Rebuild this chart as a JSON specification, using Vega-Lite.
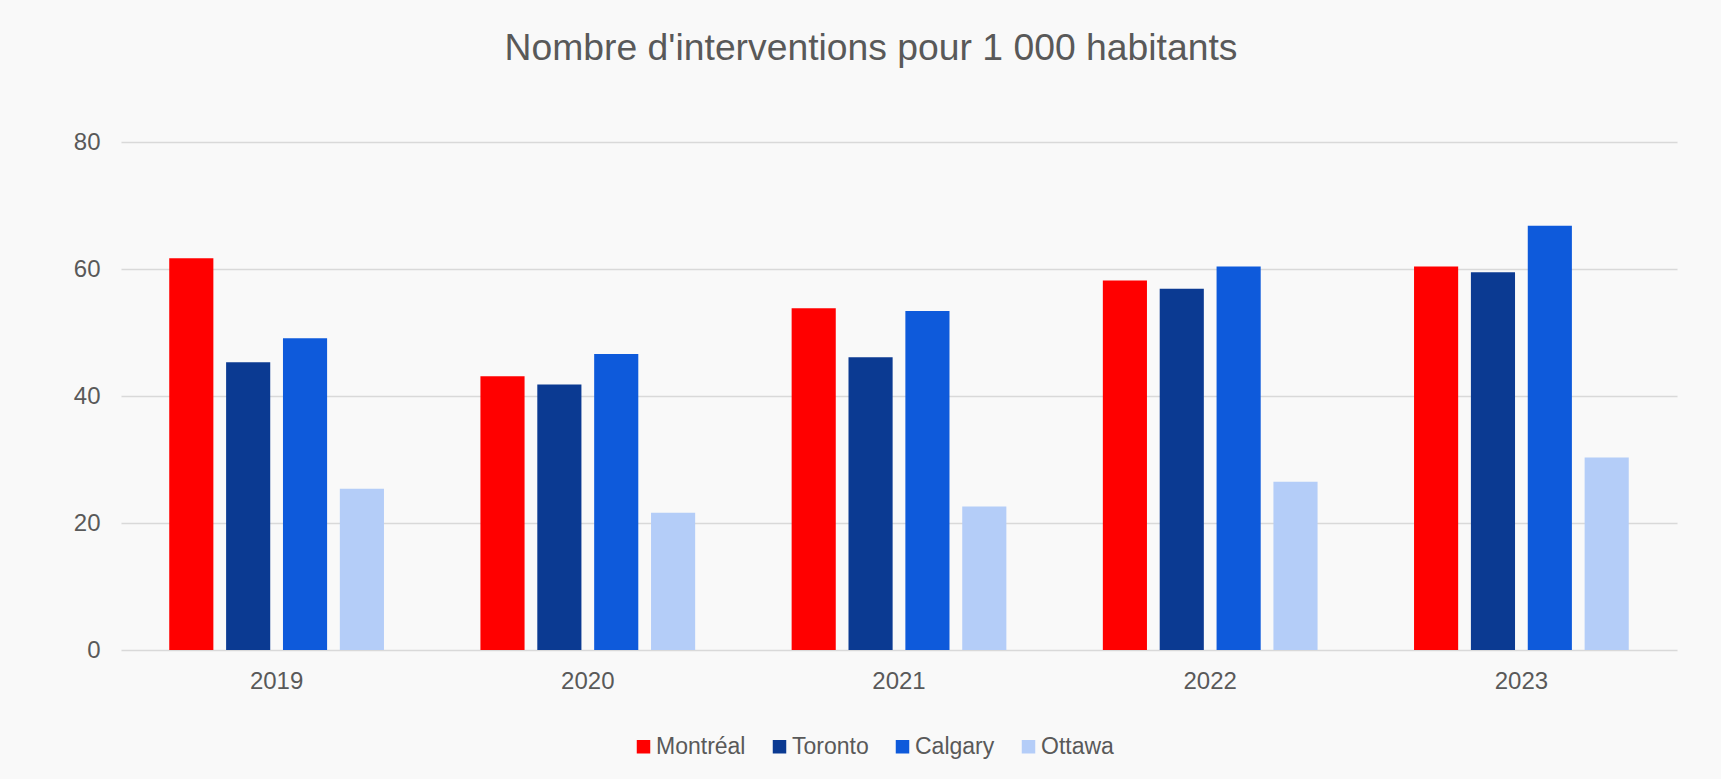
{
  "$schema": "https://vega.github.io/schema/vega-lite/v6.json",
  "autosize": {"type": "none"},
  "padding": {"left": 121, "top": 142, "right": 44, "bottom": 129},
  "width": 1556,
  "height": 508,
  "background": "#f9f9f9",
  "title": {
    "text": "Nombre d'interventions pour 1 000 habitants",
    "anchor": "middle",
    "frame": "group",
    "font": "Liberation Sans",
    "fontSize": 37.3,
    "fontWeight": "normal",
    "color": "#595959",
    "baseline": "alphabetic",
    "offset": 33,
    "dx": -28
  },
  "data": {
    "values": [
      {"annee": "2019", "ville": "Montréal", "valeur": 61.7},
      {"annee": "2019", "ville": "Toronto", "valeur": 45.3},
      {"annee": "2019", "ville": "Calgary", "valeur": 49.1},
      {"annee": "2019", "ville": "Ottawa", "valeur": 25.4},
      {"annee": "2020", "ville": "Montréal", "valeur": 43.1},
      {"annee": "2020", "ville": "Toronto", "valeur": 41.8},
      {"annee": "2020", "ville": "Calgary", "valeur": 46.6},
      {"annee": "2020", "ville": "Ottawa", "valeur": 21.6},
      {"annee": "2021", "ville": "Montréal", "valeur": 53.8},
      {"annee": "2021", "ville": "Toronto", "valeur": 46.1},
      {"annee": "2021", "ville": "Calgary", "valeur": 53.4},
      {"annee": "2021", "ville": "Ottawa", "valeur": 22.6},
      {"annee": "2022", "ville": "Montréal", "valeur": 58.2},
      {"annee": "2022", "ville": "Toronto", "valeur": 56.9},
      {"annee": "2022", "ville": "Calgary", "valeur": 60.4},
      {"annee": "2022", "ville": "Ottawa", "valeur": 26.5},
      {"annee": "2023", "ville": "Montréal", "valeur": 60.4},
      {"annee": "2023", "ville": "Toronto", "valeur": 59.5},
      {"annee": "2023", "ville": "Calgary", "valeur": 66.8},
      {"annee": "2023", "ville": "Ottawa", "valeur": 30.3}
    ]
  },
  "mark": {"type": "bar"},
  "encoding": {
    "x": {
      "field": "annee",
      "type": "nominal",
      "scale": {"paddingInner": 0.31, "paddingOuter": 0.155},
      "axis": {
        "title": null,
        "labelAngle": 0,
        "labelFont": "Liberation Sans",
        "labelFontSize": 24,
        "labelColor": "#595959",
        "labelPadding": 19,
        "ticks": false,
        "domain": false
      }
    },
    "xOffset": {
      "field": "ville",
      "type": "nominal",
      "sort": ["Montréal", "Toronto", "Calgary", "Ottawa"],
      "scale": {"paddingInner": 0.224, "paddingOuter": 0}
    },
    "y": {
      "field": "valeur",
      "type": "quantitative",
      "scale": {"domain": [0, 80], "nice": false},
      "axis": {
        "title": null,
        "values": [0, 20, 40, 60, 80],
        "labelFont": "Liberation Sans",
        "labelFontSize": 24,
        "labelColor": "#595959",
        "labelPadding": 21,
        "ticks": false,
        "domain": false,
        "grid": true,
        "gridColor": "#d9d9d9",
        "gridWidth": 1.5
      }
    },
    "color": {
      "field": "ville",
      "type": "nominal",
      "scale": {
        "domain": ["Montréal", "Toronto", "Calgary", "Ottawa"],
        "range": ["#ff0000", "#0b3a92", "#0e5adb", "#b4cdf8"]
      },
      "legend": {
        "title": null,
        "orient": "none",
        "direction": "horizontal",
        "legendX": 511,
        "legendY": 593,
        "symbolType": "square",
        "symbolSize": 182,
        "symbolStrokeWidth": 0,
        "labelFont": "Liberation Sans",
        "labelFontSize": 23,
        "labelColor": "#595959",
        "labelOffset": 1,
        "columnPadding": 22
      }
    }
  },
  "config": {
    "view": {"stroke": null}
  }
}
